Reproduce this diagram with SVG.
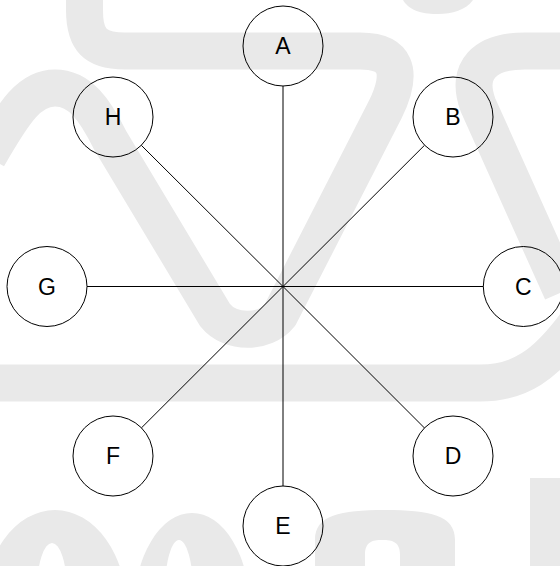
<svg xmlns="http://www.w3.org/2000/svg" width="560" height="566" viewBox="0 0 560 566">
  <style>
    .wm { fill: none; stroke: #e9e9e9; stroke-width: 37; }
    .wmf { fill: #e9e9e9; fill-rule: evenodd; stroke: none; }
    .node circle { fill: none; stroke: #000; stroke-width: 1; }
    .node text { font-family: "Liberation Sans", Arial, sans-serif; font-size: 23px; fill: #000; text-anchor: middle; }
    .edges line { stroke: #000; stroke-width: 1; }
  </style>
  <rect width="560" height="566" fill="#fff"/>
  <g id="watermark">
    <path class="wm" d="M -12,157 C 15,110 30,88 55,88 C 80,88 95,110 110,140 L 215,315 C 230,334 265,334 280,315 L 385,110 C 405,70 395,51 360,51 L 125,51 C 95,51 84.5,40 84.5,10 L 84.5,-10"/>
    <path class="wm" d="M 575,51 L 525,51 C 485,51 465,70 478,105 L 562,292"/>
    <path class="wm" d="M -10,383 L 480,383 C 520,383 545,365 575,325"/>
    <path class="wmf" d="M 403,0 C 410,12 425,14 438,14 C 452,14 466,10 473,0 Z"/>
    <path class="wmf" d="M -17,610 A 72,100 0 1 0 127,610 A 72,100 0 1 0 -17,610 Z M 37,590 A 15,47 0 1 0 67,590 A 15,47 0 1 0 37,590 Z"/>
    <path class="wmf" d="M 134,610 A 58,97 0 1 0 250,610 A 58,97 0 1 0 134,610 Z M 165,590 A 14,50 0 1 0 193,590 A 14,50 0 1 0 165,590 Z"/>
    <path class="wmf" d="M 315,566 L 315,540 C 315,515 340,510 385,510 C 430,510 455,515 455,540 L 455,566 Z M 365,566 L 365,555 C 365,542 372,540 382,540 C 393,540 400,542 400,555 L 400,566 Z"/>
    <rect class="wmf" x="530" y="478" width="40" height="100"/>
  </g>
  <g id="edges" class="edges">
    <line x1="283" y1="286.5" x2="283" y2="86"/>
    <line x1="283" y1="286.5" x2="424.5" y2="145.3"/>
    <line x1="283" y1="286.5" x2="483.3" y2="286.5"/>
    <line x1="283" y1="286.5" x2="424.5" y2="428"/>
    <line x1="283" y1="286.5" x2="283" y2="486"/>
    <line x1="283" y1="286.5" x2="141.3" y2="428"/>
    <line x1="283" y1="286.5" x2="87" y2="286.5"/>
    <line x1="283" y1="286.5" x2="141.3" y2="145.3"/>
  </g>
  <g id="node-A" class="node"><circle cx="283" cy="46" r="40"/><text x="283" y="54.2">A</text></g>
  <g id="node-B" class="node"><circle cx="453" cy="117" r="40"/><text x="453" y="125.2">B</text></g>
  <g id="node-C" class="node"><circle cx="523.3" cy="286.5" r="40"/><text x="523.3" y="294.7">C</text></g>
  <g id="node-D" class="node"><circle cx="453" cy="456" r="40"/><text x="453" y="464.2">D</text></g>
  <g id="node-E" class="node"><circle cx="283" cy="526" r="40"/><text x="283" y="534.2">E</text></g>
  <g id="node-F" class="node"><circle cx="113" cy="456" r="40"/><text x="113" y="464.2">F</text></g>
  <g id="node-G" class="node"><circle cx="47" cy="286.5" r="40"/><text x="47" y="294.7">G</text></g>
  <g id="node-H" class="node"><circle cx="113" cy="117" r="40"/><text x="113" y="125.2">H</text></g>
</svg>
